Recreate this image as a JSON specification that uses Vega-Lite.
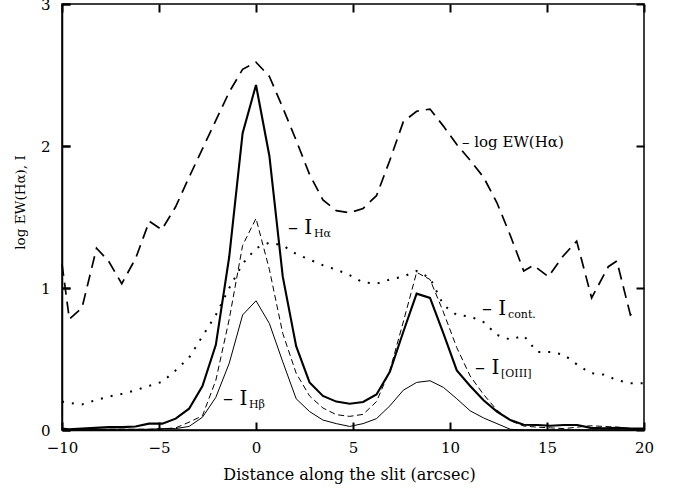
{
  "$schema": "https://vega.github.io/schema/vega-lite/v6.json",
  "width": 582,
  "height": 426,
  "autosize": "none",
  "padding": {"left": 62, "top": 4, "right": 31, "bottom": 61},
  "background": "white",
  "config": {
    "view": {"stroke": "black", "strokeWidth": 1.5},
    "font": "DejaVu Serif"
  },
  "data": {"values": [
    {"s": "ew", "x": -10, "y": 1.17}, {"s": "ew", "x": -9.62, "y": 0.78}, {"s": "ew", "x": -8.97, "y": 0.86}, {"s": "ew", "x": -8.22, "y": 1.28},
    {"s": "ew", "x": -7.6, "y": 1.19}, {"s": "ew", "x": -6.92, "y": 1.03}, {"s": "ew", "x": -6.2, "y": 1.21}, {"s": "ew", "x": -5.5, "y": 1.47},
    {"s": "ew", "x": -4.86, "y": 1.41}, {"s": "ew", "x": -4.15, "y": 1.57}, {"s": "ew", "x": -3.45, "y": 1.78}, {"s": "ew", "x": -2.76, "y": 1.98},
    {"s": "ew", "x": -2.07, "y": 2.18}, {"s": "ew", "x": -1.38, "y": 2.38}, {"s": "ew", "x": -0.69, "y": 2.54}, {"s": "ew", "x": 0, "y": 2.59},
    {"s": "ew", "x": 0.69, "y": 2.49}, {"s": "ew", "x": 1.38, "y": 2.27}, {"s": "ew", "x": 2.07, "y": 2.04}, {"s": "ew", "x": 2.76, "y": 1.8},
    {"s": "ew", "x": 3.45, "y": 1.62}, {"s": "ew", "x": 4.14, "y": 1.545}, {"s": "ew", "x": 4.83, "y": 1.53}, {"s": "ew", "x": 5.52, "y": 1.56},
    {"s": "ew", "x": 6.21, "y": 1.65}, {"s": "ew", "x": 6.9, "y": 1.9}, {"s": "ew", "x": 7.59, "y": 2.17}, {"s": "ew", "x": 8.28, "y": 2.245},
    {"s": "ew", "x": 8.97, "y": 2.26}, {"s": "ew", "x": 9.66, "y": 2.14}, {"s": "ew", "x": 10.35, "y": 2.01}, {"s": "ew", "x": 11.04, "y": 1.9},
    {"s": "ew", "x": 11.73, "y": 1.78}, {"s": "ew", "x": 12.42, "y": 1.6}, {"s": "ew", "x": 13.11, "y": 1.37}, {"s": "ew", "x": 13.8, "y": 1.12},
    {"s": "ew", "x": 14.3, "y": 1.16}, {"s": "ew", "x": 15.07, "y": 1.08}, {"s": "ew", "x": 15.8, "y": 1.22}, {"s": "ew", "x": 16.53, "y": 1.33},
    {"s": "ew", "x": 17.3, "y": 0.93}, {"s": "ew", "x": 18.16, "y": 1.15}, {"s": "ew", "x": 18.6, "y": 1.19}, {"s": "ew", "x": 19.3, "y": 0.81},
    {"s": "ew", "x": 19.6, "y": 0.84},
    {"s": "ha", "x": -10, "y": 0.01}, {"s": "ha", "x": -9.66, "y": 0.005}, {"s": "ha", "x": -8.97, "y": 0.01}, {"s": "ha", "x": -8.28, "y": 0.015},
    {"s": "ha", "x": -7.59, "y": 0.02}, {"s": "ha", "x": -6.9, "y": 0.02}, {"s": "ha", "x": -6.21, "y": 0.025}, {"s": "ha", "x": -5.52, "y": 0.045},
    {"s": "ha", "x": -4.83, "y": 0.045}, {"s": "ha", "x": -4.14, "y": 0.08}, {"s": "ha", "x": -3.45, "y": 0.15}, {"s": "ha", "x": -2.76, "y": 0.31},
    {"s": "ha", "x": -2.07, "y": 0.6}, {"s": "ha", "x": -1.38, "y": 1.22}, {"s": "ha", "x": -0.69, "y": 2.09}, {"s": "ha", "x": 0, "y": 2.43},
    {"s": "ha", "x": 0.69, "y": 1.93}, {"s": "ha", "x": 1.38, "y": 1.08}, {"s": "ha", "x": 2.07, "y": 0.59}, {"s": "ha", "x": 2.76, "y": 0.335},
    {"s": "ha", "x": 3.45, "y": 0.24}, {"s": "ha", "x": 4.14, "y": 0.2}, {"s": "ha", "x": 4.83, "y": 0.185}, {"s": "ha", "x": 5.52, "y": 0.197},
    {"s": "ha", "x": 6.21, "y": 0.25}, {"s": "ha", "x": 6.9, "y": 0.41}, {"s": "ha", "x": 7.59, "y": 0.69}, {"s": "ha", "x": 8.28, "y": 0.96},
    {"s": "ha", "x": 8.97, "y": 0.93}, {"s": "ha", "x": 9.66, "y": 0.68}, {"s": "ha", "x": 10.35, "y": 0.42}, {"s": "ha", "x": 11.04, "y": 0.31},
    {"s": "ha", "x": 11.73, "y": 0.21}, {"s": "ha", "x": 12.42, "y": 0.13}, {"s": "ha", "x": 13.11, "y": 0.07}, {"s": "ha", "x": 13.8, "y": 0.037},
    {"s": "ha", "x": 14.49, "y": 0.035}, {"s": "ha", "x": 15.18, "y": 0.03}, {"s": "ha", "x": 15.87, "y": 0.035}, {"s": "ha", "x": 16.56, "y": 0.035},
    {"s": "ha", "x": 17.25, "y": 0.015}, {"s": "ha", "x": 17.94, "y": 0.012}, {"s": "ha", "x": 18.63, "y": 0.015}, {"s": "ha", "x": 19.32, "y": 0.01},
    {"s": "ha", "x": 20, "y": 0.01},
    {"s": "hb", "x": -10, "y": 0.0}, {"s": "hb", "x": -9.66, "y": 0.0}, {"s": "hb", "x": -8.97, "y": 0.005}, {"s": "hb", "x": -8.28, "y": 0.005},
    {"s": "hb", "x": -7.59, "y": 0.005}, {"s": "hb", "x": -6.9, "y": 0.005}, {"s": "hb", "x": -6.21, "y": 0.005}, {"s": "hb", "x": -5.52, "y": 0.005},
    {"s": "hb", "x": -4.83, "y": 0.01}, {"s": "hb", "x": -4.14, "y": 0.01}, {"s": "hb", "x": -3.45, "y": 0.025}, {"s": "hb", "x": -2.76, "y": 0.09},
    {"s": "hb", "x": -2.07, "y": 0.23}, {"s": "hb", "x": -1.38, "y": 0.47}, {"s": "hb", "x": -0.69, "y": 0.81}, {"s": "hb", "x": 0, "y": 0.91},
    {"s": "hb", "x": 0.69, "y": 0.75}, {"s": "hb", "x": 1.38, "y": 0.48}, {"s": "hb", "x": 2.07, "y": 0.22}, {"s": "hb", "x": 2.76, "y": 0.13},
    {"s": "hb", "x": 3.45, "y": 0.07}, {"s": "hb", "x": 4.14, "y": 0.045}, {"s": "hb", "x": 4.83, "y": 0.025}, {"s": "hb", "x": 5.52, "y": 0.045},
    {"s": "hb", "x": 6.21, "y": 0.08}, {"s": "hb", "x": 6.9, "y": 0.17}, {"s": "hb", "x": 7.59, "y": 0.28}, {"s": "hb", "x": 8.28, "y": 0.335},
    {"s": "hb", "x": 8.97, "y": 0.347}, {"s": "hb", "x": 9.66, "y": 0.3}, {"s": "hb", "x": 10.35, "y": 0.22}, {"s": "hb", "x": 11.04, "y": 0.135},
    {"s": "hb", "x": 11.73, "y": 0.085}, {"s": "hb", "x": 12.42, "y": 0.045}, {"s": "hb", "x": 13.11, "y": 0.005}, {"s": "hb", "x": 13.8, "y": 0.0},
    {"s": "hb", "x": 14.49, "y": 0.0}, {"s": "hb", "x": 15.18, "y": 0.0}, {"s": "hb", "x": 15.87, "y": 0.0}, {"s": "hb", "x": 16.56, "y": 0.0},
    {"s": "hb", "x": 17.25, "y": 0.0}, {"s": "hb", "x": 17.94, "y": 0.0}, {"s": "hb", "x": 18.63, "y": 0.0}, {"s": "hb", "x": 19.32, "y": 0.0},
    {"s": "hb", "x": 20, "y": 0.0},
    {"s": "oiii", "x": -10, "y": 0.0}, {"s": "oiii", "x": -9.66, "y": 0.0}, {"s": "oiii", "x": -8.97, "y": 0.0}, {"s": "oiii", "x": -8.28, "y": 0.0},
    {"s": "oiii", "x": -7.59, "y": 0.005}, {"s": "oiii", "x": -6.9, "y": 0.005}, {"s": "oiii", "x": -6.21, "y": 0.005}, {"s": "oiii", "x": -5.52, "y": 0.005},
    {"s": "oiii", "x": -4.83, "y": 0.008}, {"s": "oiii", "x": -4.14, "y": 0.015}, {"s": "oiii", "x": -3.45, "y": 0.055}, {"s": "oiii", "x": -2.76, "y": 0.1},
    {"s": "oiii", "x": -2.07, "y": 0.35}, {"s": "oiii", "x": -1.38, "y": 0.78}, {"s": "oiii", "x": -0.69, "y": 1.3}, {"s": "oiii", "x": 0, "y": 1.49},
    {"s": "oiii", "x": 0.69, "y": 1.13}, {"s": "oiii", "x": 1.38, "y": 0.68}, {"s": "oiii", "x": 2.07, "y": 0.4}, {"s": "oiii", "x": 2.76, "y": 0.24},
    {"s": "oiii", "x": 3.45, "y": 0.155}, {"s": "oiii", "x": 4.14, "y": 0.108}, {"s": "oiii", "x": 4.83, "y": 0.096}, {"s": "oiii", "x": 5.52, "y": 0.11},
    {"s": "oiii", "x": 6.21, "y": 0.2}, {"s": "oiii", "x": 6.9, "y": 0.42}, {"s": "oiii", "x": 7.59, "y": 0.76}, {"s": "oiii", "x": 8.28, "y": 1.11},
    {"s": "oiii", "x": 8.97, "y": 1.06}, {"s": "oiii", "x": 9.66, "y": 0.83}, {"s": "oiii", "x": 10.35, "y": 0.58}, {"s": "oiii", "x": 11.04, "y": 0.38},
    {"s": "oiii", "x": 11.73, "y": 0.25}, {"s": "oiii", "x": 12.42, "y": 0.14}, {"s": "oiii", "x": 13.11, "y": 0.065}, {"s": "oiii", "x": 13.8, "y": 0.028},
    {"s": "oiii", "x": 14.49, "y": 0.02}, {"s": "oiii", "x": 15.18, "y": 0.015}, {"s": "oiii", "x": 15.87, "y": 0.01}, {"s": "oiii", "x": 16.56, "y": 0.02},
    {"s": "oiii", "x": 17.25, "y": 0.03}, {"s": "oiii", "x": 17.94, "y": 0.025}, {"s": "oiii", "x": 18.63, "y": 0.02}, {"s": "oiii", "x": 19.32, "y": 0.01},
    {"s": "oiii", "x": 20, "y": 0.005},
    {"s": "cont", "x": -10, "y": 0.2}, {"s": "cont", "x": -9.66, "y": 0.19}, {"s": "cont", "x": -8.97, "y": 0.18}, {"s": "cont", "x": -8.28, "y": 0.21},
    {"s": "cont", "x": -7.59, "y": 0.235}, {"s": "cont", "x": -6.9, "y": 0.255}, {"s": "cont", "x": -6.21, "y": 0.28}, {"s": "cont", "x": -5.52, "y": 0.31},
    {"s": "cont", "x": -4.83, "y": 0.34}, {"s": "cont", "x": -4.14, "y": 0.42}, {"s": "cont", "x": -3.45, "y": 0.51}, {"s": "cont", "x": -2.76, "y": 0.66},
    {"s": "cont", "x": -2.07, "y": 0.81}, {"s": "cont", "x": -1.38, "y": 1.0}, {"s": "cont", "x": -0.69, "y": 1.17}, {"s": "cont", "x": 0, "y": 1.28},
    {"s": "cont", "x": 0.69, "y": 1.32}, {"s": "cont", "x": 1.38, "y": 1.3}, {"s": "cont", "x": 2.07, "y": 1.24}, {"s": "cont", "x": 2.76, "y": 1.2},
    {"s": "cont", "x": 3.45, "y": 1.16}, {"s": "cont", "x": 4.14, "y": 1.13}, {"s": "cont", "x": 4.83, "y": 1.09}, {"s": "cont", "x": 5.52, "y": 1.04},
    {"s": "cont", "x": 6.21, "y": 1.03}, {"s": "cont", "x": 6.9, "y": 1.06}, {"s": "cont", "x": 7.59, "y": 1.08}, {"s": "cont", "x": 8.28, "y": 1.12},
    {"s": "cont", "x": 8.97, "y": 1.07}, {"s": "cont", "x": 9.66, "y": 0.88}, {"s": "cont", "x": 10.35, "y": 0.81}, {"s": "cont", "x": 11.04, "y": 0.8},
    {"s": "cont", "x": 11.73, "y": 0.76}, {"s": "cont", "x": 12.42, "y": 0.67}, {"s": "cont", "x": 13.11, "y": 0.636}, {"s": "cont", "x": 13.8, "y": 0.665},
    {"s": "cont", "x": 14.49, "y": 0.55}, {"s": "cont", "x": 15.18, "y": 0.55}, {"s": "cont", "x": 15.87, "y": 0.53}, {"s": "cont", "x": 16.56, "y": 0.46},
    {"s": "cont", "x": 17.25, "y": 0.4}, {"s": "cont", "x": 17.94, "y": 0.39}, {"s": "cont", "x": 18.63, "y": 0.35}, {"s": "cont", "x": 19.32, "y": 0.33},
    {"s": "cont", "x": 20, "y": 0.33},
    {"s": "lab", "x": 1.65, "y": 1.42, "main": "– I", "sub": "Hα"},
    {"s": "lab", "x": -1.7, "y": 0.22, "main": "– I", "sub": "Hβ"},
    {"s": "lab", "x": 11.65, "y": 0.85, "main": "– I", "sub": "cont."},
    {"s": "lab", "x": 11.29, "y": 0.437, "main": "– I", "sub": "[OIII]"},
    {"s": "ewlab", "x": 10.62, "y": 2.03, "main": "– log EW(Hα)"}
  ]},
  "encoding": {
    "x": {
      "field": "x", "type": "quantitative",
      "scale": {"domain": [-10, 20], "nice": false, "zero": false},
      "axis": {
        "values": [-10, -5, 0, 5, 10, 15, 20],
        "tickSize": -8, "tickWidth": 2, "tickColor": "#000000",
        "domainColor": "#000000", "domainWidth": 1.5,
        "grid": true, "gridColor": "#000000", "gridWidth": 2, "gridDash": [8, 2000],
        "labelPadding": 18, "labelFontSize": 15, "labelFont": "DejaVu Serif", "labelColor": "black",
        "labelFlush": false,
        "title": "Distance along the slit (arcsec)", "titleFont": "DejaVu Serif", "titleFontSize": 16,
        "titleFontWeight": "normal", "titleColor": "black", "titleX": 287, "titleY": 44,
        "titleBaseline": "middle", "titleAlign": "center"
      }
    },
    "y": {
      "field": "y", "type": "quantitative",
      "scale": {"domain": [0, 3], "nice": false, "zero": false},
      "axis": {
        "values": [0, 1, 2, 3],
        "tickSize": -8, "tickWidth": 2, "tickColor": "#000000",
        "domainColor": "#000000", "domainWidth": 1.5,
        "grid": true, "gridColor": "#000000", "gridWidth": 2, "gridDash": [8, 566, 8, 1000],
        "labelPadding": 20, "labelFontSize": 15, "labelFont": "DejaVu Serif", "labelColor": "black",
        "title": "log EW(Hα),  I", "titleFont": "DejaVu Serif", "titleFontSize": 13.5,
        "titleFontWeight": "normal", "titleColor": "black", "titleX": -42, "titleY": 198,
        "titleAngle": 270, "titleBaseline": "middle", "titleAlign": "center"
      }
    }
  },
  "layer": [
    {"transform": [{"filter": "datum.s === 'ew'"}], "mark": {"type": "line", "color": "black", "strokeWidth": 1.7, "strokeDash": [12, 7]}},
    {"transform": [{"filter": "datum.s === 'ha'"}], "mark": {"type": "line", "color": "black", "strokeWidth": 2.1}},
    {"transform": [{"filter": "datum.s === 'hb'"}], "mark": {"type": "line", "color": "black", "strokeWidth": 1}},
    {"transform": [{"filter": "datum.s === 'oiii'"}], "mark": {"type": "line", "color": "black", "strokeWidth": 1, "strokeDash": [6, 3.5]}},
    {"transform": [{"filter": "datum.s === 'cont'"}], "mark": {"type": "line", "color": "black", "strokeWidth": 2, "strokeDash": [2, 8]}},
    {
      "transform": [{"filter": "datum.s === 'lab'"}],
      "mark": {"type": "text", "align": "left", "baseline": "middle", "fontSize": 20, "font": "DejaVu Serif", "color": "black"},
      "encoding": {"text": {"field": "main"}}
    },
    {
      "transform": [{"filter": "datum.s === 'lab'"}],
      "mark": {"type": "text", "align": "left", "baseline": "middle", "fontSize": 11, "font": "DejaVu Serif", "color": "black", "dx": 26, "dy": 6},
      "encoding": {"text": {"field": "sub"}}
    },
    {
      "transform": [{"filter": "datum.s === 'ewlab'"}],
      "mark": {"type": "text", "align": "left", "baseline": "middle", "fontSize": 15, "font": "DejaVu Serif", "color": "black"},
      "encoding": {"text": {"field": "main"}}
    }
  ]
}
